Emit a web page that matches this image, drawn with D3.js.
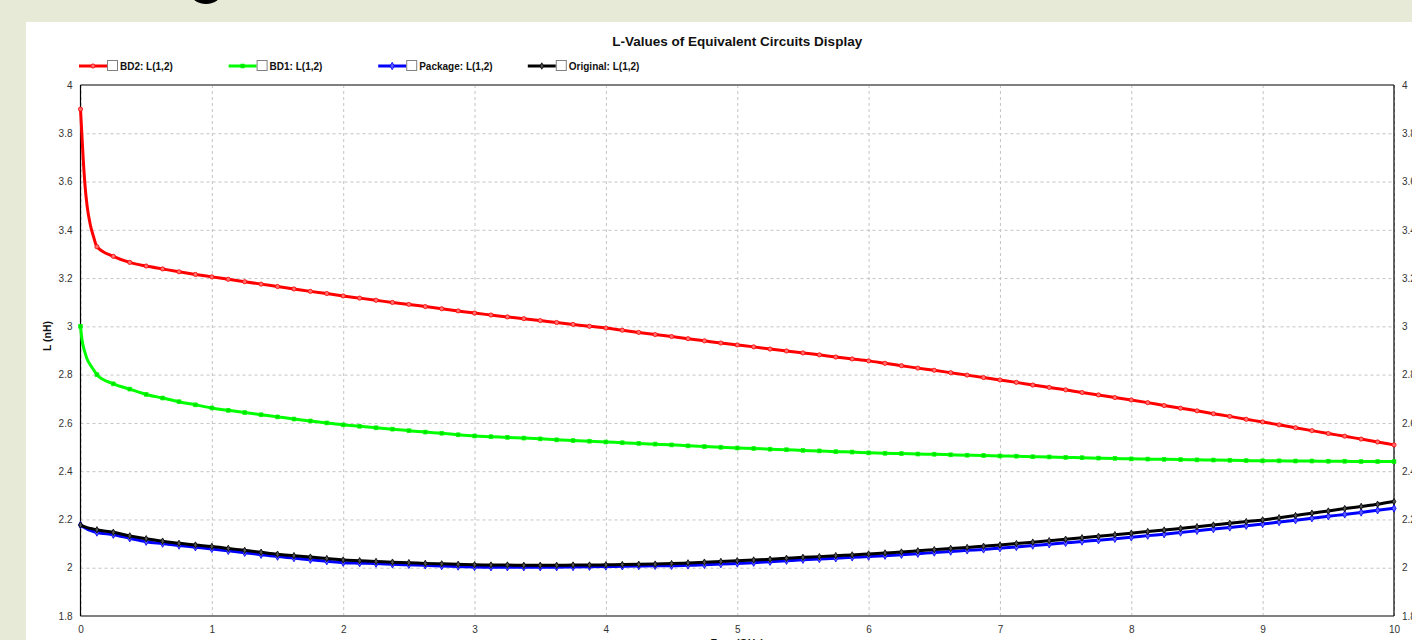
<!DOCTYPE html>
<html>
<head>
<meta charset="utf-8">
<script src="https://cdn.jsdelivr.net/npm/d3@7"></script>
<style>
  html, body { margin: 0; padding: 0; background: #e6ead6; }
  svg { display: block; font-family: Arial, "Liberation Sans", sans-serif; }
</style>
</head>
<body>
<svg id="chart"></svg>
<script>
// frequency sweep (GHz)
const freq = [0, 0.01, 0.02, 0.035, 0.05, 0.075, 0.1,
  0.125, 0.25, 0.375, 0.5, 0.625, 0.75, 0.875, 1,
  1.125, 1.25, 1.375, 1.5, 1.625, 1.75, 1.875, 2,
  2.125, 2.25, 2.375, 2.5, 2.625, 2.75, 2.875, 3,
  3.125, 3.25, 3.375, 3.5, 3.625, 3.75, 3.875, 4,
  4.125, 4.25, 4.375, 4.5, 4.625, 4.75, 4.875, 5,
  5.125, 5.25, 5.375, 5.5, 5.625, 5.75, 5.875, 6,
  6.125, 6.25, 6.375, 6.5, 6.625, 6.75, 6.875, 7,
  7.125, 7.25, 7.375, 7.5, 7.625, 7.75, 7.875, 8,
  8.125, 8.25, 8.375, 8.5, 8.625, 8.75, 8.875, 9,
  9.125, 9.25, 9.375, 9.5, 9.625, 9.75, 9.875, 10];

const bd2 = [3.90, 3.80, 3.70, 3.58, 3.50, 3.42, 3.37,
  3.33, 3.29, 3.265, 3.25, 3.238, 3.226, 3.215, 3.205,
  3.195, 3.185, 3.175, 3.165, 3.155, 3.145, 3.136, 3.126,
  3.117, 3.108, 3.099, 3.091, 3.082, 3.073, 3.064, 3.055,
  3.047, 3.039, 3.032, 3.024, 3.016, 3.008, 3.000, 2.993,
  2.984, 2.975, 2.966, 2.958, 2.949, 2.940, 2.931, 2.923,
  2.915, 2.906, 2.898, 2.890, 2.882, 2.873, 2.865, 2.857,
  2.847, 2.837, 2.827, 2.818, 2.808, 2.798, 2.788, 2.778,
  2.768, 2.757, 2.747, 2.737, 2.726, 2.716, 2.705, 2.695,
  2.684, 2.672, 2.661, 2.650, 2.638, 2.627, 2.615, 2.604,
  2.592, 2.580, 2.568, 2.556, 2.545, 2.533, 2.521, 2.509];

const bd1 = [3.00, 2.95, 2.92, 2.89, 2.865, 2.84, 2.82,
  2.80, 2.762, 2.740, 2.718, 2.703, 2.688, 2.675, 2.662,
  2.652, 2.643, 2.634, 2.625, 2.616, 2.608, 2.600, 2.592,
  2.586, 2.580, 2.574, 2.568, 2.562, 2.557, 2.551, 2.546,
  2.543, 2.540, 2.537, 2.534, 2.530, 2.527, 2.524, 2.521,
  2.518, 2.515, 2.512, 2.509, 2.505, 2.502, 2.499, 2.496,
  2.494, 2.491, 2.489, 2.486, 2.484, 2.481, 2.479, 2.476,
  2.474, 2.473, 2.471, 2.470, 2.468, 2.466, 2.465, 2.463,
  2.462, 2.460, 2.459, 2.457, 2.456, 2.454, 2.453, 2.451,
  2.450, 2.449, 2.448, 2.447, 2.446, 2.445, 2.444, 2.443,
  2.443, 2.442, 2.442, 2.441, 2.441, 2.440, 2.440, 2.440];

const pkg = [2.177, 2.174, 2.170, 2.165, 2.160, 2.155, 2.150,
  2.146, 2.137, 2.122, 2.108, 2.100, 2.092, 2.085, 2.078,
  2.070, 2.062, 2.054, 2.046, 2.040, 2.033, 2.027, 2.021,
  2.019, 2.017, 2.014, 2.012, 2.010, 2.007, 2.005, 2.003,
  2.002, 2.002, 2.002, 2.002, 2.002, 2.003, 2.004, 2.005,
  2.006, 2.007, 2.008, 2.008, 2.010, 2.012, 2.015, 2.018,
  2.021, 2.025, 2.029, 2.033, 2.036, 2.039, 2.043, 2.046,
  2.050, 2.054, 2.058, 2.063, 2.067, 2.072, 2.076, 2.081,
  2.086, 2.092, 2.097, 2.103, 2.109, 2.114, 2.120, 2.126,
  2.133, 2.139, 2.146, 2.153, 2.160, 2.167, 2.174, 2.181,
  2.189, 2.197, 2.205, 2.213, 2.221, 2.229, 2.238, 2.246];

const orig = [2.177, 2.175, 2.172, 2.169, 2.166, 2.163, 2.160,
  2.157, 2.147, 2.132, 2.120, 2.110, 2.101, 2.094, 2.088,
  2.080, 2.072, 2.064, 2.056, 2.050, 2.044, 2.038, 2.032,
  2.029, 2.026, 2.023, 2.021, 2.018, 2.016, 2.014, 2.012,
  2.011, 2.011, 2.010, 2.010, 2.010, 2.011, 2.011, 2.012,
  2.013, 2.014, 2.015, 2.017, 2.020, 2.023, 2.026, 2.029,
  2.032, 2.035, 2.039, 2.043, 2.046, 2.050, 2.053, 2.057,
  2.061, 2.065, 2.070, 2.075, 2.080, 2.084, 2.089, 2.094,
  2.100, 2.106, 2.112, 2.118, 2.124, 2.130, 2.137, 2.143,
  2.150, 2.156, 2.163, 2.170, 2.177, 2.184, 2.191, 2.198,
  2.207, 2.216, 2.226, 2.235, 2.245, 2.254, 2.263, 2.274];

const seriesNames = ["BD2: L(1,2)", "BD1: L(1,2)", "Package: L(1,2)", "Original: L(1,2)"];
const seriesValues = [bd2, bd1, pkg, orig];
const seriesColors = ["#ff0000", "#00ff00", "#0000ff", "#000000"];
const markerFills = ["#ff7070", "#00e000", "#5a5aff", "#555555"];

const xTicks = [0, 1, 2, 3, 4, 5, 6, 7, 8, 9, 10];
const yTicks = [1.8, 2, 2.2, 2.4, 2.6, 2.8, 3, 3.2, 3.4, 3.6, 3.8, 4];

const chartTitle = "L-Values of Equivalent Circuits Display";
const yTitle = "L (nH)";
const xTitle = "Freq (GHz)";

const width = 1412;
const height = 640;
const margin = { top: 85, left: 80.5, right: 18, bottom: 24 };
const innerW = width - margin.left - margin.right;
const innerH = height - margin.top - margin.bottom;

const svg = d3.select("#chart").attr("width", width).attr("height", height);

// slide background and white panel
svg.append("rect").attr("width", width).attr("height", height).attr("fill", "#e6ead6");
svg.append("ellipse")
  .attr("cx", 206).attr("cy", -9).attr("rx", 16).attr("ry", 13)
  .attr("fill", "#000");
svg.append("rect")
  .attr("x", 26).attr("y", 22)
  .attr("width", width - 26).attr("height", height - 22)
  .attr("fill", "#ffffff");

const x = d3.scaleLinear().domain([0, 10]).range([0, innerW]);
const y = d3.scaleLinear().domain([1.8, 4]).range([innerH, 0]);

const plot = svg.append("g").attr("transform", `translate(${margin.left},${margin.top})`);

// grid
plot.append("g")
  .attr("class", "grid")
  .attr("transform", `translate(0,${innerH})`)
  .call(d3.axisBottom(x).tickValues(xTicks).tickSize(-innerH).tickFormat(""))
  .call(g => g.select(".domain").remove());
plot.append("g")
  .attr("class", "grid")
  .call(d3.axisLeft(y).tickValues(yTicks).tickSize(-innerW).tickFormat(""))
  .call(g => g.select(".domain").remove());
plot.selectAll(".grid line")
  .attr("stroke", "#c4c4c4")
  .attr("stroke-width", 1)
  .attr("stroke-dasharray", "3,3");

// axis labels
const fmt = d => d3.format("~g")(d);
function styleAxis(g) {
  g.select(".domain").remove();
  g.selectAll(".tick line").remove();
  g.selectAll(".tick text")
    .attr("font-size", 10)
    .attr("font-family", "Arial, 'Liberation Sans', sans-serif")
    .attr("fill", "#333");
}
plot.append("g")
  .call(d3.axisLeft(y).tickValues(yTicks).tickSize(0).tickPadding(8).tickFormat(fmt))
  .call(styleAxis);
plot.append("g")
  .attr("transform", `translate(${innerW},0)`)
  .call(d3.axisRight(y).tickValues(yTicks).tickSize(0).tickPadding(8).tickFormat(fmt))
  .call(styleAxis);
plot.append("g")
  .attr("transform", `translate(0,${innerH})`)
  .call(d3.axisBottom(x).tickValues(xTicks).tickSize(0).tickPadding(10).tickFormat(fmt))
  .call(styleAxis);

// frame
plot.append("line").attr("x1", 0).attr("x2", innerW).attr("y1", 0).attr("y2", 0)
  .attr("stroke", "#808080").attr("stroke-width", 2);
plot.append("line").attr("x1", 0).attr("x2", innerW).attr("y1", innerH).attr("y2", innerH)
  .attr("stroke", "#808080").attr("stroke-width", 2);
plot.append("line").attr("x1", 0).attr("x2", 0).attr("y1", 0).attr("y2", innerH)
  .attr("stroke", "#000").attr("stroke-width", 1.2);
plot.append("line").attr("x1", innerW).attr("x2", innerW).attr("y1", 0).attr("y2", innerH)
  .attr("stroke", "#000").attr("stroke-width", 1.2);

// series
const line = d3.line()
  .x(d => x(d[0]))
  .y(d => y(d[1]))
  .curve(d3.curveMonotoneX);

const symbols = [d3.symbolCircle, d3.symbolSquare, d3.symbolDiamond, d3.symbolDiamond];
const symbolSizes = [14, 14, 16, 12];

seriesValues.forEach((vals, i) => {
  const pts = freq.map((f, j) => [f, vals[j]]);
  const g = plot.append("g").attr("class", "series");
  g.append("path")
    .datum(pts)
    .attr("fill", "none")
    .attr("stroke", seriesColors[i])
    .attr("stroke-width", 3)
    .attr("stroke-linejoin", "round")
    .attr("d", line);
  g.selectAll("path.marker")
    .data(pts.filter(d => Number.isInteger(d[0] * 8)))
    .join("path")
    .classed("marker", true)
    .attr("transform", d => `translate(${x(d[0])},${y(d[1])})`)
    .attr("d", d3.symbol().type(symbols[i]).size(symbolSizes[i]))
    .attr("fill", markerFills[i])
    .attr("stroke", seriesColors[i])
    .attr("stroke-width", 0.8);
});

// title
svg.append("text")
  .attr("x", margin.left + innerW / 2)
  .attr("y", 46)
  .attr("text-anchor", "middle")
  .attr("font-size", 13.5)
  .attr("font-weight", "bold")
  .attr("fill", "#111")
  .text(chartTitle);

// axis titles
svg.append("text")
  .attr("transform", "translate(51,336) rotate(-90)")
  .attr("text-anchor", "middle")
  .attr("font-size", 10.5)
  .attr("font-weight", "bold")
  .attr("fill", "#111")
  .text(yTitle);
svg.append("text")
  .attr("x", margin.left + innerW / 2)
  .attr("y", 647)
  .attr("text-anchor", "middle")
  .attr("font-size", 10.5)
  .attr("font-weight", "bold")
  .attr("fill", "#111")
  .text(xTitle);

// legend
const legend = svg.append("g").attr("transform", "translate(79,66)");
const items = legend.selectAll("g.item")
  .data(seriesNames)
  .join("g")
  .classed("item", true)
  .attr("transform", (_, i) => `translate(${i * 149.6},0)`);
items.append("line")
  .attr("x1", 0).attr("x2", 28).attr("y1", 0).attr("y2", 0)
  .attr("stroke", (_, i) => seriesColors[i])
  .attr("stroke-width", 3);
items.append("path")
  .attr("transform", "translate(14,0)")
  .attr("d", (_, i) => d3.symbol().type(symbols[i]).size(symbolSizes[i])())
  .attr("fill", (_, i) => markerFills[i])
  .attr("stroke", (_, i) => seriesColors[i])
  .attr("stroke-width", 0.8);
items.append("rect")
  .attr("x", 28.5).attr("y", -5.5)
  .attr("width", 10).attr("height", 10)
  .attr("fill", "#fff")
  .attr("stroke", "#808080")
  .attr("stroke-width", 1);
items.append("text")
  .attr("x", 41)
  .attr("y", 3.5)
  .attr("font-size", 10)
  .attr("font-weight", "bold")
  .attr("fill", "#111")
  .text(d => d);
</script>
</body>
</html>
